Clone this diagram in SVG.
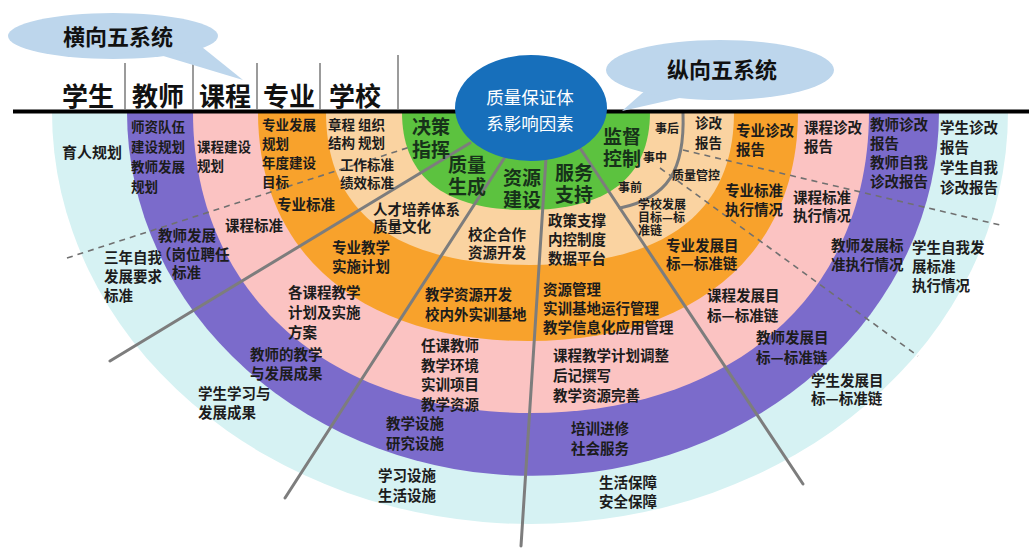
<svg xmlns="http://www.w3.org/2000/svg" width="1029" height="548" viewBox="0 0 1029 548">
<style>
.t{font-family:"Noto Sans CJK SC","Noto Sans",sans-serif;font-weight:bold;font-size:14.5px;fill:#1c1c1c}
.m{font-size:13.5px}
.s{font-size:12px}
.g{font-size:19px;fill:#17321a}
.h{font-size:26px;fill:#111}
.c{font-size:22px;fill:#111}
.w{font-size:17.5px;fill:#fff;font-weight:normal}
.ray{stroke:#7d7d7d;stroke-width:3;fill:none;stroke-linecap:round}
.dash{stroke:#707070;stroke-width:1.6;fill:none;stroke-dasharray:6 5}
.sep{stroke:#7a7a7a;stroke-width:1.5}
</style>
<rect width="1029" height="548" fill="#fff"/>
<g id="rings">
<path id="ring-student" d="M52,112 A478,412 0 0 0 1008,112 Z" fill="#d6f2f3"/>
<path id="ring-teacher" d="M127,112 A406,364 0 0 0 939,112 Z" fill="#7b6bcb"/>
<path id="ring-course" d="M193,112 C193,293 328,413 531,413 C734,413 869,293 869,112 Z" fill="#fbc3c2"/>
<path id="ring-major" d="M258,112 C258,254 361,341 528,341 C695,341 798,254 798,112 Z" fill="#f8a22c"/>
<path id="ring-school" d="M326,112 C326,213 395,265 530,265 C665,265 734,213 734,112 Z" fill="#fad3a1"/>
<path id="ring-core" d="M402,112 C402,177 444,210 526,210 C608,210 650,177 650,112 Z" fill="#5cc23f"/>
</g>
<g id="connectors">
<path class="dash" d="M67,258 L410,147"/>
<path class="dash" d="M683,150 L1000,225"/>
<path class="dash" d="M660,168 L918,356"/>
<path class="ray" d="M470,143 L110,361"/>
<path class="ray" d="M505,157 L285,498"/>
<path class="ray" d="M546,158 L521,546"/>
<path class="ray" d="M578,145 L803,484"/>
<path class="ray" d="M683,113 C685,170 668,198 620,208"/>
</g>
<g id="header">
<line x1="13" y1="111.5" x2="1029" y2="111.5" stroke="#000" stroke-width="4"/>
<line class="sep" x1="125" y1="63" x2="125" y2="110"/>
<line class="sep" x1="193" y1="63" x2="193" y2="110"/>
<line class="sep" x1="257" y1="63" x2="257" y2="110"/>
<line class="sep" x1="320" y1="63" x2="320" y2="110"/>
<line class="sep" x1="398" y1="55" x2="398" y2="110"/>
<text class="t h" x="62" y="106">学生</text>
<text class="t h" x="132" y="106">教师</text>
<text class="t h" x="199" y="106">课程</text>
<text class="t h" x="263" y="106">专业</text>
<text class="t h" x="329" y="106">学校</text>
</g>
<g id="callout-horizontal">
<path d="M160,55 L243,80 L197,43 Z" fill="#bdd6ec"/>
<ellipse cx="113" cy="36" rx="105" ry="23" fill="#bdd6ec"/>
<text class="t c" x="63" y="45">横向五系统</text>
</g>
<g id="callout-vertical">
<path d="M648,88 L622,111 L684,97 Z" fill="#bdd6ec"/>
<ellipse cx="720" cy="70" rx="114" ry="30" fill="#bdd6ec"/>
<text class="t c" x="667" y="78">纵向五系统</text>
</g>
<g id="center">
<ellipse cx="531" cy="108" rx="76" ry="53" fill="#176fbb"/>
<text class="t w" x="530" y="104" text-anchor="middle">质量保证体</text>
<text class="t w" x="530" y="130" text-anchor="middle">系影响因素</text>
</g>
<g id="core-labels">
<text class="t g" y="134"><tspan x="412">决策</tspan><tspan x="412" dy="23">指挥</tspan></text>
<text class="t g" y="172"><tspan x="448">质量</tspan><tspan x="448" dy="22">生成</tspan></text>
<text class="t g" y="185"><tspan x="503">资源</tspan><tspan x="503" dy="22">建设</tspan></text>
<text class="t g" y="180"><tspan x="555">服务</tspan><tspan x="555" dy="22">支持</tspan></text>
<text class="t g" y="144"><tspan x="603">监督</tspan><tspan x="603" dy="22">控制</tspan></text>
</g>
<g id="school-labels">
<text class="t m" y="130"><tspan x="328">章程 组织</tspan><tspan x="328" dy="18">结构 规划</tspan></text>
<text class="t m" y="170"><tspan x="340">工作标准</tspan><tspan x="340" dy="18">绩效标准</tspan></text>
<text class="t" y="215"><tspan x="373">人才培养体系</tspan><tspan x="373" dy="17">质量文化</tspan></text>
<text class="t" y="240"><tspan x="468">校企合作</tspan><tspan x="468" dy="18">资源开发</tspan></text>
<text class="t" y="226"><tspan x="548">政策支撑</tspan><tspan x="548" dy="19">内控制度</tspan><tspan x="548" dy="19">数据平台</tspan></text>
<text class="t s" y="209"><tspan x="638">学校发展</tspan><tspan x="638" dy="13">目标—标</tspan><tspan x="638" dy="13">准链</tspan></text>
<text class="t s" x="672" y="180">质量管控</text>
<text class="t m" y="128"><tspan x="695">诊改</tspan><tspan x="695" dy="20">报告</tspan></text>
<text class="t s" x="655" y="133">事后</text>
<text class="t s" x="643" y="162">事中</text>
<text class="t s" x="618" y="192">事前</text>
</g>
<g id="major-labels">
<text class="t m" y="130"><tspan x="262">专业发展</tspan><tspan x="262" dy="19">规划</tspan><tspan x="262" dy="19">年度建设</tspan><tspan x="262" dy="19">目标</tspan></text>
<text class="t" x="277" y="210">专业标准</text>
<text class="t" y="253"><tspan x="332">专业教学</tspan><tspan x="332" dy="19">实施计划</tspan></text>
<text class="t" y="300"><tspan x="425">教学资源开发</tspan><tspan x="425" dy="20">校内外实训基地</tspan></text>
<text class="t" y="295"><tspan x="543">资源管理</tspan><tspan x="543" dy="19">实训基地运行管理</tspan><tspan x="543" dy="19">教学信息化应用管理</tspan></text>
<text class="t" y="251"><tspan x="666">专业发展目</tspan><tspan x="666" dy="18">标—标准链</tspan></text>
<text class="t" y="196"><tspan x="725">专业标准</tspan><tspan x="725" dy="19">执行情况</tspan></text>
<text class="t" y="136"><tspan x="736">专业诊改</tspan><tspan x="736" dy="19">报告</tspan></text>
</g>
<g id="course-labels">
<text class="t m" y="152"><tspan x="197">课程建设</tspan><tspan x="197" dy="19">规划</tspan></text>
<text class="t" x="225" y="231">课程标准</text>
<text class="t" y="298"><tspan x="288">各课程教学</tspan><tspan x="288" dy="20">计划及实施</tspan><tspan x="288" dy="20">方案</tspan></text>
<text class="t" y="351"><tspan x="421">任课教师</tspan><tspan x="421" dy="19.5">教学环境</tspan><tspan x="421" dy="19.5">实训项目</tspan><tspan x="421" dy="19.5">教学资源</tspan></text>
<text class="t" y="361"><tspan x="553">课程教学计划调整</tspan><tspan x="553" dy="20">后记撰写</tspan><tspan x="553" dy="20">教学资源完善</tspan></text>
<text class="t" y="301"><tspan x="707">课程发展目</tspan><tspan x="707" dy="20">标—标准链</tspan></text>
<text class="t" y="203"><tspan x="793">课程标准</tspan><tspan x="793" dy="18">执行情况</tspan></text>
<text class="t" y="133"><tspan x="804">课程诊改</tspan><tspan x="804" dy="19">报告</tspan></text>
</g>
<g id="teacher-labels">
<text class="t m" y="132"><tspan x="131">师资队伍</tspan><tspan x="131" dy="20">建设规划</tspan><tspan x="131" dy="20">教师发展</tspan><tspan x="131" dy="20">规划</tspan></text>
<text class="t" y="241"><tspan x="158">教师发展</tspan><tspan x="157" dy="19">（岗位聘任</tspan><tspan x="172" dy="18">标准</tspan></text>
<text class="t" y="360"><tspan x="250">教师的教学</tspan><tspan x="250" dy="19">与发展成果</tspan></text>
<text class="t" y="429"><tspan x="386">教学设施</tspan><tspan x="386" dy="20">研究设施</tspan></text>
<text class="t" y="434"><tspan x="571">培训进修</tspan><tspan x="571" dy="20">社会服务</tspan></text>
<text class="t" y="343"><tspan x="756">教师发展目</tspan><tspan x="756" dy="20">标—标准链</tspan></text>
<text class="t" y="251"><tspan x="831">教师发展标</tspan><tspan x="831" dy="19">准执行情况</tspan></text>
<text class="t" y="130"><tspan x="870">教师诊改</tspan><tspan x="870" dy="19">报告</tspan><tspan x="870" dy="19">教师自我</tspan><tspan x="870" dy="19">诊改报告</tspan></text>
</g>
<g id="student-labels">
<text class="t" x="62" y="158" style="font-size:15px">育人规划</text>
<text class="t" y="263"><tspan x="104">三年自我</tspan><tspan x="104" dy="19">发展要求</tspan><tspan x="104" dy="19">标准</tspan></text>
<text class="t" y="399"><tspan x="198">学生学习与</tspan><tspan x="198" dy="19">发展成果</tspan></text>
<text class="t" y="481"><tspan x="378">学习设施</tspan><tspan x="378" dy="20">生活设施</tspan></text>
<text class="t" y="488"><tspan x="599">生活保障</tspan><tspan x="599" dy="19">安全保障</tspan></text>
<text class="t" y="386"><tspan x="811">学生发展目</tspan><tspan x="811" dy="18">标—标准链</tspan></text>
<text class="t" y="253"><tspan x="912">学生自我发</tspan><tspan x="912" dy="19">展标准</tspan><tspan x="912" dy="19">执行情况</tspan></text>
<text class="t" y="133"><tspan x="940">学生诊改</tspan><tspan x="940" dy="20">报告</tspan><tspan x="940" dy="20">学生自我</tspan><tspan x="940" dy="20">诊改报告</tspan></text>
</g>
</svg>
